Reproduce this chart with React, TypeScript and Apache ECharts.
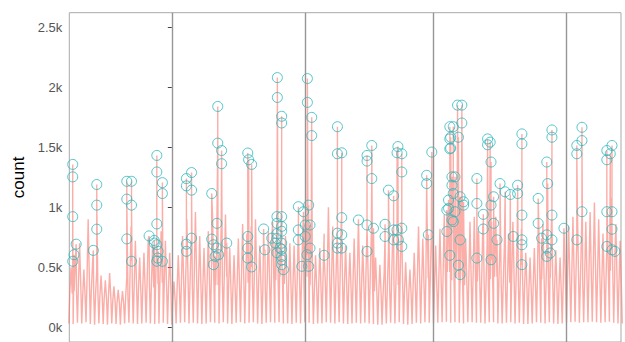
import React, { useEffect, useRef } from "react";
import * as echarts from "echarts";

// Day offsets are measured from the first month boundary (day 0).
const FIRST_DAY = -24;
const X_MIN = -23.9;
const X_MAX = 104.7;
const MONTH_STARTS = [0, 31, 61, 92];

// Daily peak of the hourly count (one value per day, from day -24 to day 104)
const dailyPeak = [
  500, 540, 700, 480, 900, 520, 470,
  430, 390, 450, 340, 310, 300, 420,
  840, 720, 580, 620, 740, 680, 760,
  800, 720, 620,
  380, 600, 760, 900, 700, 960, 760,
  660, 800, 920, 720, 840, 940, 660,
  600, 740, 860, 780, 840, 900, 680,
  640, 800, 880, 860, 940, 760, 700,
  680, 860, 780, 940, 740, 600, 660,
  780, 1000, 840, 740, 900, 680, 620,
  740, 900, 680, 840, 780, 580, 520,
  460, 640, 800, 720, 880, 540, 480,
  620, 840, 740, 900, 780, 680, 820,
  940, 1060, 860, 920, 800, 740, 880,
  920, 800, 860, 700, 880, 920, 720,
  660, 780, 880, 740, 820, 620, 580,
  660, 920, 860, 720, 900, 640, 580,
  720, 840, 920, 1080, 780, 880, 960,
  1040, 900, 780, 920, 1080, 860, 720,
];

// Typical daytime level of each day
const dailyMid = [
  280, 300, 340, 260, 390, 290, 270,
  250, 230, 250, 210, 200, 190, 240,
  370, 340, 300, 320, 350, 330, 360,
  370, 340, 310,
  220, 310, 350, 400, 340, 420, 350,
  330, 370, 410, 350, 380, 420, 320,
  300, 350, 390, 370, 380, 410, 340,
  320, 380, 400, 390, 420, 360, 340,
  330, 390, 370, 420, 350, 310, 320,
  370, 440, 380, 350, 410, 330, 320,
  360, 410, 330, 390, 370, 300, 280,
  260, 320, 370, 350, 400, 290, 270,
  320, 390, 350, 410, 370, 330, 380,
  420, 460, 390, 410, 370, 350, 400,
  420, 380, 390, 340, 400, 420, 350,
  330, 370, 400, 360, 380, 320, 300,
  330, 420, 400, 350, 410, 320, 300,
  350, 390, 420, 470, 370, 400, 430,
  460, 410, 370, 420, 470, 390, 350,
];

// Night-time trough of each day
const dailyLow = [
  30, 25, 35, 30, 40, 25, 20,
  30, 25, 20, 30, 25, 20, 30,
  35, 30, 25, 30, 35, 30, 25,
  30, 35, 25,
  20, 30, 35, 40, 30, 35, 30,
  25, 30, 40, 35, 30, 40, 30,
  25, 35, 40, 30, 35, 40, 30,
  25, 35, 40, 35, 40, 30, 30,
  25, 35, 30, 40, 35, 25, 30,
  30, 40, 35, 30, 40, 30, 25,
  30, 35, 30, 35, 30, 25, 20,
  20, 30, 35, 30, 40, 25, 20,
  25, 35, 30, 40, 35, 30, 35,
  40, 45, 35, 40, 35, 30, 40,
  40, 35, 35, 30, 40, 40, 30,
  30, 35, 40, 30, 35, 25, 25,
  30, 40, 35, 30, 40, 30, 25,
  30, 35, 40, 45, 35, 40, 40,
  45, 40, 35, 40, 45, 35, 30,
];
const END_LOW = 30;

// Anomalous hours: [day offset, count]
const anomalies: [number, number][] = [
  [-23.1, 549], [-23.1, 1358], [-23.1, 1254], [-23.1, 922], [-22.8, 604], [-22.3, 692],
  [-18.3, 640], [-17.5, 817], [-17.5, 1190], [-17.5, 1018],
  [-10.5, 736], [-10.5, 1217], [-10.5, 1068], [-9.4, 549], [-9.4, 1217], [-9.4, 1018],
  [-5.3, 761], [-4.1, 723], [-4.1, 701],
  [-3.5, 549], [-3.5, 1433], [-3.5, 1295], [-3.5, 861], [-3.5, 687], [-3.3, 576], [-3.2, 632],
  [-2.2, 549], [-2.2, 1206], [-2.2, 1115],
  [3.4, 632], [3.4, 1240], [3.4, 1179], [3.4, 692], [4.6, 742], [4.6, 1290], [4.6, 1143],
  [9.3, 734], [9.3, 1115], [9.7, 521], [9.7, 687], [10.1, 590],
  [10.5, 659], [10.5, 866], [10.7, 1536], [10.7, 1842], [10.9, 604],
  [11.6, 1364], [11.6, 1474], [12.8, 701],
  [17.7, 576], [17.7, 1453], [17.7, 756], [17.7, 659], [17.9, 1397], [18.6, 502], [18.6, 1358],
  [21.4, 819], [21.7, 645],
  [23.3, 742], [24.1, 701], [24.5, 620], [24.5, 922], [24.5, 866], [24.5, 780], [24.5, 740],
  [24.6, 1917], [24.6, 2083], [25.2, 659],
  [25.6, 521], [25.6, 1760], [25.6, 1704], [25.6, 922], [25.6, 840], [25.6, 800], [25.6, 700], [25.6, 650], [25.6, 590], [25.6, 560],
  [26.0, 479],
  [29.5, 728], [29.5, 1005], [29.5, 811], [30.3, 507], [30.7, 963], [31.1, 852], [31.1, 756],
  [31.5, 604], [31.6, 1876], [31.6, 2075], [31.9, 1018], [31.9, 507], [32.2, 852], [32.2, 659],
  [32.6, 1751], [32.6, 1599],
  [35.5, 599],
  [38.6, 659], [38.6, 1673], [38.6, 1447], [38.6, 784], [38.6, 701],
  [39.6, 659], [39.6, 1455], [39.6, 914], [39.6, 770],
  [43.5, 894], [45.5, 632], [45.5, 1433], [45.5, 1386], [45.5, 852], [46.6, 1240], [46.6, 1516], [47.0, 825],
  [49.7, 756], [49.7, 858], [50.5, 1143], [51.7, 728], [51.7, 1096], [51.7, 811],
  [52.5, 811], [52.5, 1455], [52.7, 1507], [52.8, 728],
  [53.6, 673], [53.6, 1447], [53.6, 1295], [53.6, 825],
  [59.4, 1198], [59.4, 1267], [59.8, 770], [60.6, 1461],
  [64.1, 798], [64.1, 977], [64.5, 991], [64.5, 1060], [64.8, 599], [64.8, 1673], [64.8, 1571], [64.8, 1488],
  [65.0, 1494], [65.0, 1585], [65.3, 1254], [65.3, 1184], [65.3, 894],
  [65.6, 880], [65.6, 1673], [65.6, 1115], [66.0, 963], [66.0, 1254],
  [66.6, 1853], [66.8, 516], [66.8, 1585], [67.2, 438], [67.2, 1088], [67.2, 728],
  [67.6, 1704], [67.6, 1853], [68.0, 1046], [68.0, 1018],
  [71.1, 576], [71.1, 1240], [71.1, 1032], [72.6, 819], [72.6, 941],
  [73.6, 1522], [73.6, 1571], [74.2, 1544], [74.4, 1378], [74.4, 1018], [74.4, 562],
  [75.0, 866], [75.0, 1088], [75.8, 728],
  [76.5, 1198], [77.7, 1129], [78.9, 1107], [79.6, 756],
  [80.6, 1115], [80.6, 1184],
  [81.6, 521], [81.6, 1613], [81.6, 1530], [81.6, 935], [81.6, 728], [81.6, 687],
  [85.4, 866], [85.4, 1074], [86.2, 742],
  [87.4, 590], [87.4, 1378], [87.4, 770], [87.4, 659], [87.6, 1198], [88.2, 618],
  [88.6, 728], [88.6, 1646], [88.6, 1585], [88.6, 935],
  [91.4, 825],
  [94.4, 728], [94.4, 1516], [94.4, 1447], [95.6, 963], [95.6, 1668], [95.6, 1557],
  [101.4, 673], [101.4, 1474], [101.4, 1397], [101.4, 963], [102.2, 1447],
  [102.6, 645], [102.6, 1516], [102.6, 963], [102.6, 817], [103.3, 632],
];

const Y_LABELS = [0, 500, 1000, 1500, 2000, 2500];
const Y_MIN = -125;
const Y_MAX = 2625;

export default function App() {
  const ref = useRef<HTMLDivElement>(null);

  useEffect(() => {
    if (!ref.current) return;
    const chart = echarts.init(ref.current, undefined, { renderer: "svg" });

    const pts: [number, number][] = [];
    dailyPeak.forEach((p, i) => {
      const d = FIRST_DAY + i;
      pts.push([d, dailyLow[i]]);
      pts.push([d + 0.22, dailyMid[i]]);
      pts.push([d + 0.5, p]);
      pts.push([d + 0.78, dailyMid[i]]);
    });
    pts.push([FIRST_DAY + dailyPeak.length, END_LOW]);
    anomalies.forEach((a) => pts.push([a[0], a[1]]));
    const lineData = pts
      .map((p, idx) => ({ p, idx }))
      .sort((a, b) => a.p[0] - b.p[0] || a.idx - b.idx)
      .map((o) => o.p);

    chart.setOption({
      animation: false,
      backgroundColor: "#ffffff",
      textStyle: { fontFamily: "Liberation Sans, Arial, sans-serif" },
      grid: {
        left: 69.3,
        right: 4,
        top: 12.7,
        bottom: -2.6,
        show: true,
        borderColor: "#a9a9a9",
        borderWidth: 1,
        backgroundColor: "#ffffff",
      },
      xAxis: {
        type: "value",
        min: X_MIN,
        max: X_MAX,
        axisLine: { show: false },
        axisTick: { show: false },
        axisLabel: { show: false },
        splitLine: { show: false },
      },
      yAxis: {
        type: "value",
        min: Y_MIN,
        max: Y_MAX,
        name: "count",
        nameLocation: "middle",
        nameGap: 31,
        nameTextStyle: { color: "#000000", fontSize: 17, fontFamily: "Liberation Sans, Arial, sans-serif" },
        axisLine: { show: false },
        axisTick: {
          show: true,
          length: 4,
          customValues: Y_LABELS,
          lineStyle: { color: "#444444", width: 1 },
        },
        axisLabel: {
          show: true,
          customValues: Y_LABELS,
          margin: 7,
          color: "#555555",
          fontSize: 13,
          formatter: (v: number) => `${v / 1000}k`,
        },
        splitLine: { show: false },
      },
      series: [
        {
          type: "line",
          data: lineData,
          symbol: "none",
          lineStyle: { color: "#F8766D", width: 1.4, opacity: 0.6 },
          z: 2,
          markLine: {
            silent: true,
            symbol: ["none", "none"],
            label: { show: false },
            lineStyle: { color: "#969696", width: 1.4, type: "solid" },
            data: MONTH_STARTS.map((d) => ({ xAxis: d })),
          },
        },
        {
          type: "scatter",
          data: anomalies,
          symbol: "circle",
          symbolSize: 10,
          itemStyle: { color: "rgba(0,0,0,0)", borderColor: "#2db7bb", borderWidth: 1 },
          z: 3,
        },
      ],
    });

    return () => chart.dispose();
  }, []);

  return (
    <div
      ref={ref}
      style={{ position: "fixed", left: 0, top: 0, width: 625, height: 342 }}
    />
  );
}
